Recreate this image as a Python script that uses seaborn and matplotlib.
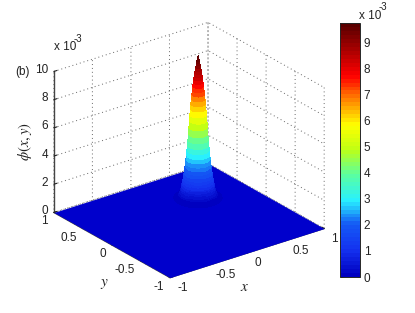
import numpy as np
import matplotlib
matplotlib.use("Agg")
import matplotlib.pyplot as plt
from matplotlib.colors import ListedColormap
from mpl_toolkits.mplot3d import proj3d
import seaborn as sns

# values
axis_ticks = [-1, -0.5, 0, 0.5, 1]
axis_tick_labels = ["-1", "-0.5", "0", "0.5", "1"]
z_ticks = [0, 2, 4, 6, 8, 10]
cbar_ticks = [0, 1, 2, 3, 4, 5, 6, 7, 8, 9]
peak_x = 0.48
peak_y = 0.48
# radial profile of the peak, phi in units of 1e-3
peak_r = [0, .004, .008, .012, .016, .02, .025, .03, .035, .04, .045, .05, .055, .06,
          .065, .07, .075, .08, .085, .09, .095, .10, .105, .11, .115, .12, .125, .13,
          .135, .14, .145, .15, .155, .16, .165, .17, .175, .18, .19, .20, .22, .25]
peak_phi = [9.73, 9.62, 9.5, 9.36, 9.22, 9.08, 8.9, 8.72, 8.52, 8.32, 8.1, 7.85, 7.58, 7.3,
            7.0, 6.68, 6.34, 5.98, 5.58, 5.15, 4.7, 4.25, 3.85, 3.48, 3.14, 2.82, 2.54, 2.28,
            2.04, 1.82, 1.6, 1.4, 1.22, 1.05, .9, .76, .64, .52, .34, .2, .06, 0]
# the foot of the peak leans toward the viewer
peak_lean = [0, 0, 0, 0, 0, 0, 0, 0, 0, 0, 0, 0, 0, 0, 0, 0, 0, 0, 0, 0,
             .05, .1, .15, .2, .25, .3, .35, .4,
             .45, .5, .55, .6, .65, .7, .75, .8, .85, .9, .93, .96, 1, 1]
phi_max = 9.73
# colorbar colours at phi = 0, 1, ... 9 and at the top
bar_colors = ["#0000c0", "#1432f0", "#145af5", "#28f0ff", "#5affa0", "#beff14",
              "#ffff00", "#ff8200", "#ff0000", "#aa0000", "#5a0000"]

sns.set_style("white")
plt.rcParams["font.family"] = ["Liberation Sans", "DejaVu Sans"]
plt.rcParams["mathtext.fontset"] = "stix"
plt.rcParams["grid.color"] = "#666666"
plt.rcParams["grid.linestyle"] = (0, (1, 3))
plt.rcParams["grid.linewidth"] = 0.7
plt.rcParams["text.color"] = "#222222"
plt.rcParams["xtick.color"] = "#222222"
plt.rcParams["ytick.color"] = "#222222"

W, H = 415, 313
fig = plt.figure(figsize=(W / 100, H / 100), dpi=100)
ax = fig.add_axes([32.4 / W, 6.4 / H, 305 / W, 305 / H], projection="3d", computed_zorder=False)
ax.set_proj_type("ortho")
ax.view_init(elev=25, azim=-127)
ax.set_box_aspect((1, 1, 0.806))
ax.set_xlim(-1, 1, view_margin=0)
ax.set_ylim(-1, 1, view_margin=0)
ax.set_zlim(0, 10, view_margin=0)

cmap = ListedColormap(sns.blend_palette(bar_colors, 64))
floor_color = (0, 0, 0.8)

# floor
fx, fy = np.meshgrid([-1, 1], [-1, 1])
ax.plot_surface(fx, fy, np.zeros_like(fx), color=floor_color, shade=False,
                linewidth=0, antialiased=False, zorder=2)

# peak, revolved from the radial profile
theta = np.radians(np.arange(0, 361, 5))
rr, tt = np.meshgrid(peak_r, theta)
zz, _ = np.meshgrid(peak_phi, theta)
ll, _ = np.meshgrid(peak_lean, theta)
surf = ax.plot_surface(peak_x - 0.07 * ll + rr * np.cos(tt), peak_y - 0.09 * ll + rr * np.sin(tt), zz,
                       cmap=cmap, vmin=0, vmax=phi_max, rstride=1, cstride=1,
                       linewidth=0, antialiased=False, zorder=3)

ax.set_xticks(axis_ticks)
ax.set_xticklabels([])
ax.set_yticks(axis_ticks)
ax.set_yticklabels([])
ax.set_zticks(z_ticks)
ax.set_zticklabels([])
ax.grid(True)
for axis in (ax.xaxis, ax.yaxis, ax.zaxis):
    axis.set_pane_color((1, 1, 1, 0))
    axis.pane.set_edgecolor((1, 1, 1, 0))
    axis.line.set_color("#444444")
    axis.line.set_linewidth(1.0)
    axis._axinfo["tick"]["inward_factor"] = 0
    axis._axinfo["tick"]["outward_factor"] = 0.25


def tick_label(x, y, z, s, dx, dy, ha):
    # label placed a few pixels away from the projected tick
    px, py, _ = proj3d.proj_transform(x, y, z, ax.get_proj())
    ax.annotate(s, xy=(px, py), xytext=(dx, dy), textcoords="offset pixels",
                fontsize=8.5, ha=ha, va="center", annotation_clip=False)


for t, s in zip(axis_ticks, axis_tick_labels):
    tick_label(t, -1, 0, s, 7, -10, "left")
    tick_label(-1, t, 0, s, -6, -9, "right")
for t in z_ticks:
    tick_label(-1, 1, t, str(t), -6, 1.5, "right")

# colorbar
cax = fig.add_axes([340 / W, (H - 277) / H, 19.5 / W, 254 / H])
cb = fig.colorbar(surf, cax=cax, ticks=cbar_ticks)
cb.ax.tick_params(labelsize=8.5, direction="in", length=2, pad=3, width=0.6, left=True, right=True)
cb.outline.set_linewidth(0.7)

# labels
fig.text(54 / W, 1 - 47 / H, "x 10", fontsize=8.5, ha="left", va="center")
fig.text(74 / W, 1 - 39 / H, "-3", fontsize=7, ha="left", va="center")
fig.text(359 / W, 1 - 16 / H, "x 10", fontsize=8.5, ha="left", va="center")
fig.text(379 / W, 1 - 7 / H, "-3", fontsize=7, ha="left", va="center")
fig.text(23 / W, 1 - 72 / H, "(b)", fontsize=8.5, ha="center", va="center")
fig.text(25 / W, 1 - 142 / H, r"$\phi(x,y)$", fontsize=10.5, rotation=90, ha="center", va="center")
fig.text(245 / W, 1 - 287 / H, r"$x$", fontsize=11, ha="center", va="center")
fig.text(104 / W, 1 - 284 / H, r"$y$", fontsize=11, ha="center", va="center")

fig.savefig("out.png", dpi=100)
